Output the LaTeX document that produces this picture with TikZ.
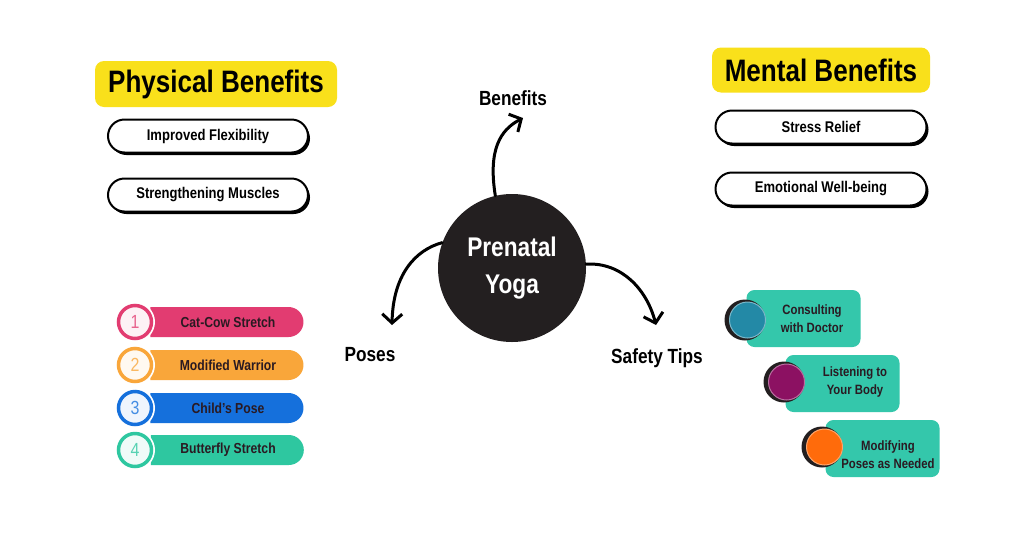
\documentclass[tikz,border=0pt]{standalone}
\usepackage{fontspec}
\setmainfont{Liberation Sans}[FakeStretch=0.84]
\usetikzlibrary{arrows.meta,shapes.misc,shadows}
\definecolor{yel}{HTML}{F9E01B}
\definecolor{ink}{HTML}{231F20}
\definecolor{cpink}{HTML}{E23C71}
\definecolor{corange}{HTML}{F9A63A}
\definecolor{cblue}{HTML}{1570DC}
\definecolor{cteal}{HTML}{2EC7A0}
\definecolor{sbox}{HTML}{34C7AB}
\definecolor{sblue}{HTML}{2389A6}
\definecolor{spurple}{HTML}{8C1162}
\definecolor{sorange}{HTML}{FF6B0B}
\definecolor{bartext}{HTML}{2A1A22}
\tikzset{
  hdr/.style={fill=yel, rounded corners=9pt, inner sep=0pt, font=\fontsize{31}{33}\selectfont\bfseries},
  pill/.style={rounded rectangle, draw=black, line width=2pt, fill=white, inner sep=0pt,
     minimum height=33pt, font=\fontsize{15.5}{17}\selectfont\bfseries,
     drop shadow={shadow xshift=2pt, shadow yshift=-2.5pt, fill=black, opacity=1}},
  lbl/.style={font=\fontsize{20.5}{22}\selectfont\bfseries},
  arr/.style={line width=3pt, line cap=round, -{Straight Barb[length=9pt,width=20pt,line width=3pt]}},
  numc/.style={circle, minimum size=33pt, inner sep=0pt, fill=#1!7, draw=#1, line width=3.5pt,
     text=#1!80, font=\fontsize{19}{19}\selectfont, preaction={draw=white, line width=7pt}},
  bar/.style={rounded rectangle, rounded rectangle west arc=none, fill=#1, minimum width=153pt,
     minimum height=30pt, inner sep=0pt, text=bartext, font=\fontsize{14.5}{16}\selectfont\bfseries},
  sbx/.style={fill=sbox, rounded corners=8pt, minimum width=114pt, minimum height=57pt, inner sep=0pt},
  stxt/.style={align=center, text=bartext, font=\fontsize{13.5}{18}\selectfont\bfseries},
  sdark/.style={circle, fill=ink, minimum size=41pt, inner sep=0pt},
  sdot/.style={circle, fill=#1, draw=#1!60!white, line width=1pt, minimum size=36pt, inner sep=0pt},
}
\begin{document}
\begin{tikzpicture}[x=1pt,y=-1pt]
\useasboundingbox[fill=white] (0,0) rectangle (1024,536);

% headers
\node[hdr, minimum width=242pt, minimum height=46pt] (phys) at (216,84) {Physical Benefits};
\node[hdr, minimum width=218pt, minimum height=45pt] (ment) at (821,70) {Mental Benefits};

% pills
\node[pill, minimum width=200pt] (p1) at (208,136) {Improved Flexibility};
\node[pill, minimum width=200pt] (p2) at (208,195) {Strengthening Muscles};
\node[pill, minimum width=211pt] (m1) at (821,127) {Stress Relief};
\node[pill, minimum width=211pt] (m2) at (821,189) {Emotional Well-being};

% centre
\node[circle, fill=ink, minimum size=148pt, inner sep=0pt] (c) at (512,268) {};
\node[align=center, text=white, font=\fontsize{27}{37}\selectfont\bfseries] (ct) at (512,268) {Prenatal\\Yoga};

\node[lbl] (ben) at (513,98) {Benefits};
\node[lbl] (pos) at (370,355) {Poses};
\node[lbl] (saf) at (657,358) {Safety Tips};

\coordinate (benE) at (523,118);
\coordinate (posE) at (392,325);
\coordinate (safE) at (656,325);
\draw[arr] (c.103) .. controls (488,150) and (500,130) .. (benE);
\draw[arr] (c.160) .. controls (415,250) and (393,275) .. (posE);
\draw[arr] (c.3) .. controls (622,262) and (647,290) .. (safE);

% poses list
\node[bar=cpink] (b1) at (226.5,322) {\hspace*{3pt}Cat-Cow Stretch};
\node[bar=corange] (b2) at (226.5,365) {\hspace*{3pt}Modified Warrior};
\node[bar=cblue] (b3) at (226.5,408) {\hspace*{3pt}Child's Pose};
\node[bar=cteal] (b4) at (226.5,450) {\hspace*{3pt}Butterfly Stretch};
\node[numc=cpink] (n1) at (135,322) {1};
\node[numc=corange] (n2) at (135,365) {2};
\node[numc=cblue] (n3) at (135,408) {3};
\node[numc=cteal] (n4) at (135,450) {4};

% safety tips
\node[sbx] (s1) at (803.5,318.5) {};
\node[sbx] (s2) at (842.5,383.5) {};
\node[sbx] (s3) at (882.5,448.5) {};
\node[sdark] (d1) at (745,320) {};
\node[sdark] (d2) at (784,382) {};
\node[sdark] (d3) at (822,447) {};
\node[sdot=sblue] (o1) at (747.5,320) {};
\node[sdot=spurple] (o2) at (786.5,382) {};
\node[sdot=sorange] (o3) at (824.5,447) {};
\node[stxt] (t1) at (812,319) {Consulting\\with Doctor};
\node[stxt] (t2) at (855,382) {Listening to\\Your Body};
\node[stxt] (t3) at (888,455) {Modifying\\Poses as Needed};
\end{tikzpicture}
\end{document}
